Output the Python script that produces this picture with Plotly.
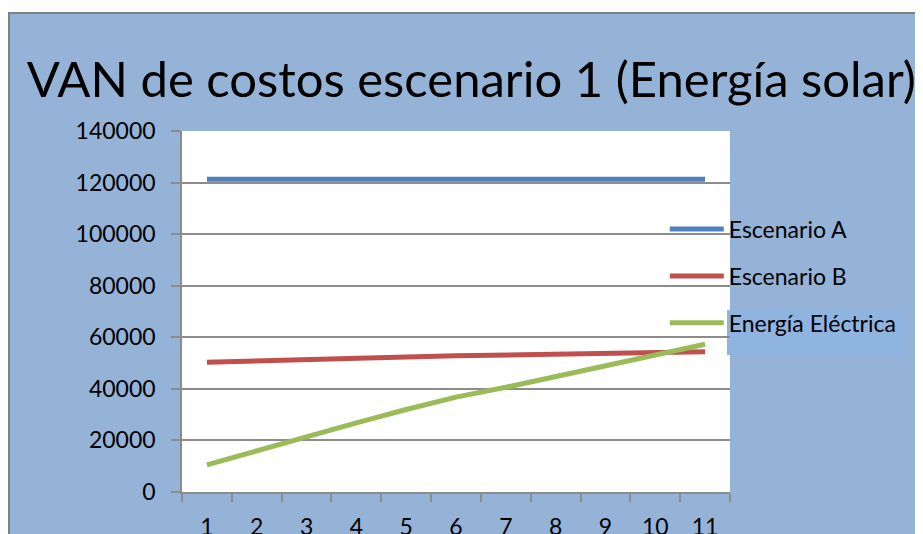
import plotly.graph_objects as go

years = [str(i) for i in range(1, 12)]
escenario_a = [121300, 121300, 121300, 121300, 121300, 121300, 121300, 121300, 121300, 121300, 121300]
escenario_b = [50300, 50900, 51400, 51900, 52400, 52800, 53200, 53500, 53800, 54100, 54400]
energia_electrica = [10500, 16000, 21500, 26800, 32000, 36800, 40600, 44800, 49000, 53200, 57300]

series = [
    ("Escenario A", escenario_a, "#4F81BD"),
    ("Escenario B", escenario_b, "#C0504D"),
    ("Energía Eléctrica", energia_electrica, "#9BBB59"),
]

bg = "#95B3D7"
grid = "#8C8C8C"
font = "Lato"

fig = go.Figure()
for i, (name, vals, color) in enumerate(series):
    fig.add_trace(go.Scatter(
        x=years, y=vals, name=name, mode="lines",
        line=dict(color=color, width=5),
        legendgroup=str(i),
    ))

# plot area: 548 x 361 px
fig.update_layout(
    width=923, height=534,
    margin=dict(l=174, r=201, t=123, b=50, autoexpand=False),
    paper_bgcolor=bg,
    plot_bgcolor="white",
    font=dict(family=font, size=23, color="black"),
    title=dict(text="VAN de costos escenario 1 (Energía solar)",
               x=0.502, xanchor="center", y=0.865, yanchor="middle",
               font=dict(family=font, size=49, color="black")),
    legend=dict(x=0.881, xanchor="left", y=0.598, yanchor="middle",
                bgcolor="rgba(0,0,0,0)", font=dict(size=23),
                itemwidth=54, tracegroupgap=14, traceorder="grouped"),
    showlegend=True,
)

fig.update_xaxes(
    type="category", range=[-0.5, 10.5], tickson="boundaries", ticks="outside", ticklen=8,
    tickcolor=grid, tickwidth=1.5, showline=True, linecolor=grid, linewidth=1.5,
    showgrid=False, ticklabelstandoff=14, zeroline=False, automargin=False,
)
fig.update_yaxes(
    range=[0, 140000], dtick=20000, tickformat="d", ticks="outside", ticklen=9,
    tickcolor=grid, tickwidth=1.5, showline=True, linecolor=grid, linewidth=1.5,
    showgrid=True, gridcolor=grid, gridwidth=1.5, zeroline=False,
    ticklabelstandoff=11, automargin=False,
)

# white strip above the chart panel and the grey panel border
x0 = -174 / 548
y_top = 1 + 118 / 361
fig.add_shape(type="rect", xref="paper", yref="paper", x0=x0 - 0.05, x1=1.5,
              y0=y_top, y1=y_top + 0.1, fillcolor="white", line_width=0)
fig.add_shape(type="line", xref="paper", yref="paper", x0=x0, x1=1.5,
              y0=y_top, y1=y_top, line=dict(color="#808080", width=2))
fig.add_shape(type="line", xref="paper", yref="paper", x0=x0 + 1 / 548, x1=x0 + 1 / 548,
              y0=-0.2, y1=y_top, line=dict(color="#808080", width=2))

# slightly different blue box behind the last legend label
fig.add_shape(type="rect", xref="paper", yref="paper", x0=0.9945, x1=1.319,
              y0=0.3795, y1=0.504, fillcolor="#8FB4E0", line_width=0, layer="below")

fig.write_html("out.html")
